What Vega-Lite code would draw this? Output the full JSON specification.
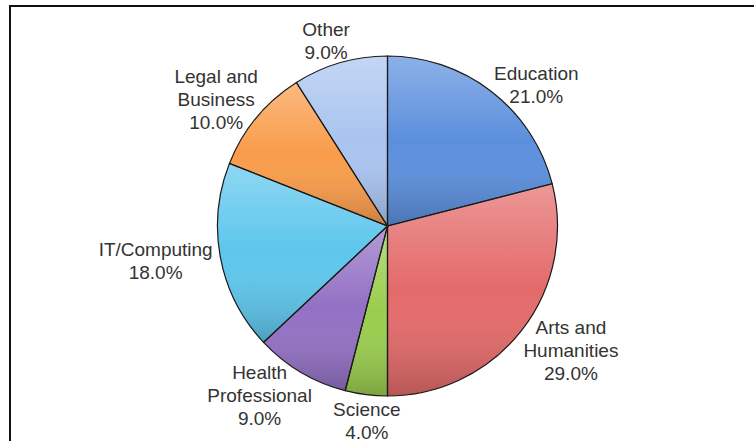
{
  "$schema": "https://vega.github.io/schema/vega-lite/v6.json",
  "width": 755,
  "height": 440,
  "autosize": "none",
  "padding": {"left": 10, "top": 6, "right": 0, "bottom": 0},
  "background": "white",
  "view": {"stroke": "#111111", "strokeWidth": 2},
  "config": {
    "text": {"font": "Liberation Sans", "fontSize": 19, "fill": "#333333", "align": "center", "baseline": "middle", "lineBreak": "\n", "lineHeight": 23}
  },
  "data": {
    "values": [
      {"rank": 1, "field": "Education", "label": "Education", "share": 21},
      {"rank": 2, "field": "Arts and Humanities", "label": "Arts and\nHumanities", "share": 29},
      {"rank": 3, "field": "Science", "label": "Science", "share": 4},
      {"rank": 4, "field": "Health Professional", "label": "Health\nProfessional", "share": 9},
      {"rank": 5, "field": "IT/Computing", "label": "IT/Computing", "share": 18},
      {"rank": 6, "field": "Legal and Business", "label": "Legal and\nBusiness", "share": 10},
      {"rank": 7, "field": "Other", "label": "Other", "share": 9}
    ]
  },
  "transform": [
    {"stack": "share", "groupby": [], "sort": [{"field": "rank", "order": "ascending"}], "as": ["t0", "t1"]},
    {"calculate": "(datum.t0 + datum.t1) / 2", "as": "tmid"},
    {"calculate": "datum.label + '\\n' + format(datum.share, '.1f') + '%'", "as": "text"}
  ],
  "layer": [
    {
      "mark": {"type": "arc", "outerRadius": 170},
      "encoding": {
        "theta": {"field": "t0", "type": "quantitative", "stack": null, "scale": {"domain": [0, 100], "range": [0, 6.283185307179586]}},
        "theta2": {"field": "t1"},
        "color": {
          "field": "field",
          "type": "nominal",
          "legend": null,
          "scale": {
            "domain": ["Education", "Arts and Humanities", "Science", "Health Professional", "IT/Computing", "Legal and Business", "Other"],
            "range": ["#5b8fdd", "#e46a6a", "#9acd4e", "#9370c4", "#5ec6ec", "#f99c4a", "#a9c4f0"]
          }
        }
      }
    },
    {
      "mark": {
        "type": "arc",
        "outerRadius": 170,
        "stroke": "#1a1a1a",
        "strokeWidth": 1.2,
        "fill": {
          "gradient": "linear",
          "x1": 0, "y1": 0, "x2": 0, "y2": 1,
          "stops": [
            {"offset": 0, "color": "rgba(255,255,255,0.3)"},
            {"offset": 0.5, "color": "rgba(255,255,255,0)"},
            {"offset": 1, "color": "rgba(0,0,0,0.2)"}
          ]
        }
      },
      "encoding": {
        "theta": {"field": "t0", "type": "quantitative", "stack": null},
        "theta2": {"field": "t1"}
      }
    },
    {
      "transform": [{"filter": "datum.rank == 1"}],
      "mark": {"type": "text", "radius": 202, "dx": 25, "dy": 8},
      "encoding": {"theta": {"field": "tmid", "type": "quantitative", "stack": null}, "text": {"field": "text", "type": "nominal"}}
    },
    {
      "transform": [{"filter": "datum.rank == 2"}],
      "mark": {"type": "text", "radius": 222, "dx": 8, "dy": -34},
      "encoding": {"theta": {"field": "tmid", "type": "quantitative", "stack": null}, "text": {"field": "text", "type": "nominal"}}
    },
    {
      "transform": [{"filter": "datum.rank == 3"}],
      "mark": {"type": "text", "radius": 197, "dx": 4, "dy": -11},
      "encoding": {"theta": {"field": "tmid", "type": "quantitative", "stack": null}, "text": {"field": "text", "type": "nominal"}}
    },
    {
      "transform": [{"filter": "datum.rank == 4"}],
      "mark": {"type": "text", "radius": 212, "dx": -20, "dy": -35},
      "encoding": {"theta": {"field": "tmid", "type": "quantitative", "stack": null}, "text": {"field": "text", "type": "nominal"}}
    },
    {
      "transform": [{"filter": "datum.rank == 5"}],
      "mark": {"type": "text", "radius": 234, "dx": -2, "dy": -20},
      "encoding": {"theta": {"field": "tmid", "type": "quantitative", "stack": null}, "text": {"field": "text", "type": "nominal"}}
    },
    {
      "transform": [{"filter": "datum.rank == 6"}],
      "mark": {"type": "text", "radius": 212, "dx": -8, "dy": -14},
      "encoding": {"theta": {"field": "tmid", "type": "quantitative", "stack": null}, "text": {"field": "text", "type": "nominal"}}
    },
    {
      "transform": [{"filter": "datum.rank == 7"}],
      "mark": {"type": "text", "radius": 195, "dx": -7, "dy": -9},
      "encoding": {"theta": {"field": "tmid", "type": "quantitative", "stack": null}, "text": {"field": "text", "type": "nominal"}}
    }
  ]
}
